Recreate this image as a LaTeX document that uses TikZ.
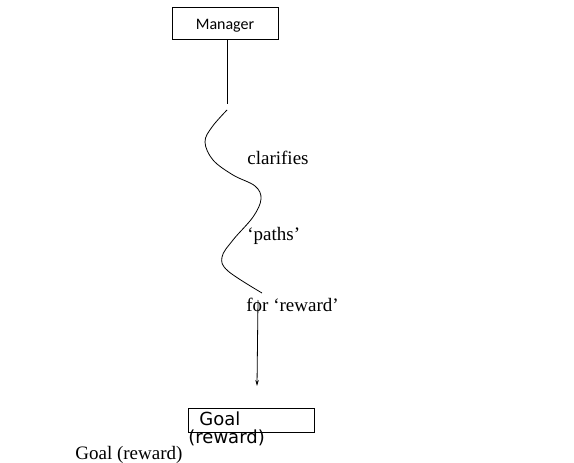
\documentclass[tikz,border=0pt]{standalone}
\usepackage{fontspec}
\setmainfont{Liberation Serif}
\newfontfamily\mgrfont{Carlito}
\newfontfamily\goalfont{DejaVu Sans}
\usepackage{tikz}
\usetikzlibrary{arrows.meta}
\tikzset{
  boxnode/.style={draw, thick, rectangle, inner sep=0pt},
  wordnode/.style={anchor=base west, inner sep=0pt, font=\fontsize{19}{22}\selectfont},
  goalword/.style={anchor=base west, inner sep=0pt, font=\goalfont\fontsize{18}{20}\selectfont}
}
\newcommand{\wlabel}[4]{\node[wordnode] (#1) at ( #2 , #3 ) {#4};}
\begin{document}
\begin{tikzpicture}[x=1pt,y=-1pt,line width=0.8pt]
        \useasboundingbox (0,0) rectangle (574,463);
        % boxes
        \node[boxnode, minimum width=106pt, minimum height=32pt, text height=12pt, text depth=0pt,
              font=\mgrfont\fontsize{16}{18}\selectfont] (manager) at (225,23) {Manager};
        \node[boxnode, minimum width=126pt, minimum height=24pt] (goal) at (251,420) {};
        \node[goalword] (goaltop) at (199,425) {Goal};
        \node[goalword] (goalbot) at (188,443) {(reward)};

        % line and wave
        \coordinate (stemend) at (227,104);
        \coordinate (wavestart) at (227,110);
        \coordinate (waveend) at (262,293);
        \draw (manager.south -| stemend) -- (stemend);
        \draw plot[smooth, tension=0.6] coordinates {(wavestart) (212,127) (205,142) (213,160)
              (233,175) (255,186) (261,199) (253,217) (233,240) (222,257) (228,271) (waveend)};

        % arrow
        \coordinate (arrowtop) at (258,300);
        \coordinate (arrowtip) at (257,386);
        \draw[-{Stealth[length=6pt,width=3.5pt]}] (arrowtop) -- (arrowtip);

        % words
        \wlabel{clar}{247}{164}{clarifies}
        \wlabel{paths}{247}{240}{`paths'}
        \wlabel{forrew}{246}{311}{for `reward'}
        \wlabel{goaltext}{75}{459}{Goal (reward)}
\end{tikzpicture}
\end{document}
